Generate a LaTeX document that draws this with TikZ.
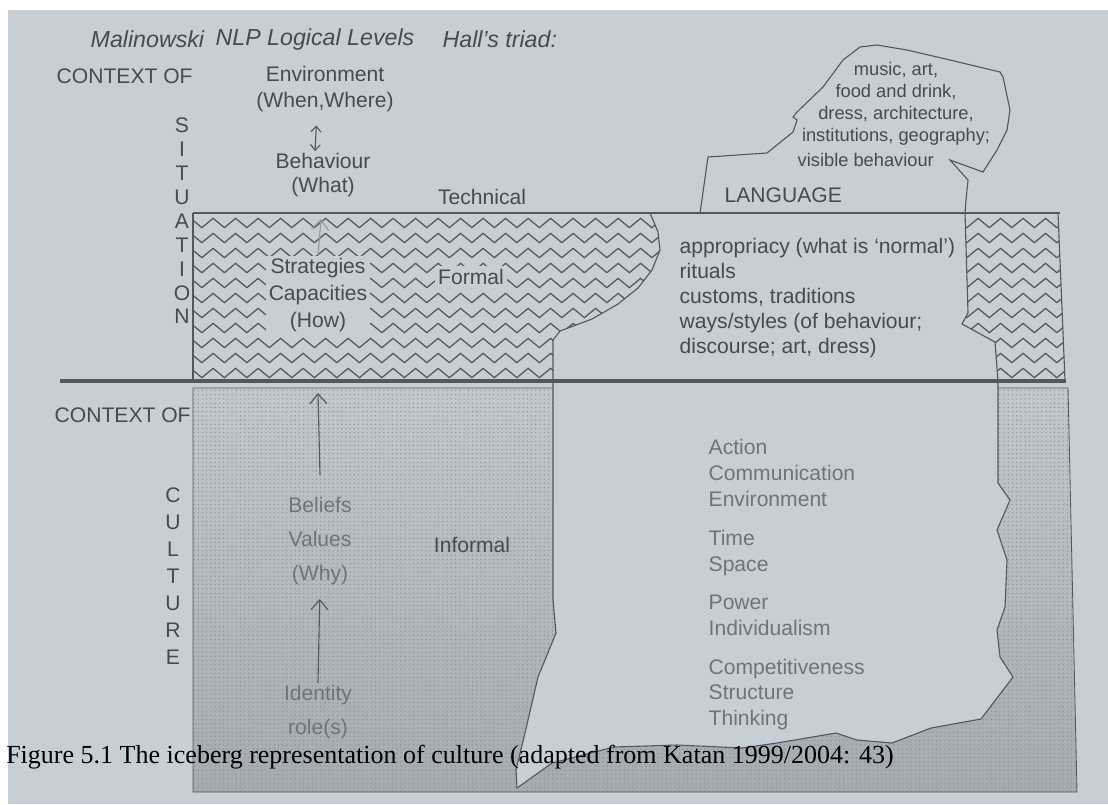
\documentclass[tikz,border=0pt]{standalone}
\usepackage{fontspec}
\setmainfont{Liberation Sans}
\newfontfamily\legendefont{Liberation Serif}
\usetikzlibrary{arrows.meta,decorations.pathmorphing,patterns}
\definecolor{fond}{RGB}{198,207,213}
\definecolor{encre}{RGB}{72,75,78}
\definecolor{pale}{RGB}{112,116,119}
\definecolor{trait}{RGB}{85,88,90}
\definecolor{grain}{RGB}{140,146,150}

\begin{document}
\begin{tikzpicture}[x=0.025cm, y=-0.025cm,
    txt/.style={text=encre, font=\fontsize{15}{18}\selectfont, inner sep=1pt},
    entete/.style={txt, font=\fontsize{16.5}{18}\selectfont\itshape},
    fleche/.style={-{Straight Barb[length=7pt,width=12pt]}, draw=trait, line width=0.8pt},
    fleche2/.style={{Straight Barb[length=4pt,width=7pt]}-{Straight Barb[length=4pt,width=7pt]}, draw=trait, line width=0.8pt},
    zz/.style={draw=trait, line width=0.9pt, decorate, decoration={zigzag, segment length=16pt, amplitude=3.3pt}},
    contour/.style={draw=trait, line width=0.8pt}]
  % le fond
  \fill[white] (0,0) rectangle (1108,804);
  \fill[fond] (8,10) rectangle (1108,804);
  \useasboundingbox (0,0) rectangle (1108,804);

  % la culture : zone grisee
  \shade[top color=fond!97!black, bottom color=fond!83!black] (193,388) -- (1068,388) -- (1077,792) -- (193,792) -- cycle;
  \fill[pattern=dots, pattern color=grain] (193,388) -- (1068,388) -- (1077,792) -- (193,792) -- cycle;

  % la partie claire sous l'eau
  \draw[contour, fill=fond] (553,381) -- (553,600) -- (556,633) -- (538,677) -- (525,733) -- (516,770) -- (517,788)
    -- (552,763) -- (614,747) -- (677,745) -- (742,748) -- (777,743) -- (836,733) -- (857,740) -- (892,743)
    -- (931,728) -- (981,719) -- (1013,677) -- (1000,657) -- (997,630) -- (1005,607) -- (1007,560) -- (997,530)
    -- (1010,500) -- (998,483) -- (998,381) -- cycle;

  % le cadre de la culture
  \draw[trait, line width=0.6pt] (553,388) -- (193,388) -- (193,792) -- (1077,792) -- (1068,388) -- (998,388);

  % la situation : les zigzags
  \begin{scope}
    \clip (193,213) -- (650,213) -- (658,232) -- (660,250) -- (652,270) -- (638,288) -- (618,304) -- (592,319)
      -- (560,331) -- (553,340) -- (553,381) -- (193,381) -- cycle
      (965,213) -- (1058,213) -- (1065,381) -- (998,381) -- (995,342) -- (962,324) -- (968,313) -- cycle;
    \foreach \r in {0,...,10}
      \draw[zz] (185,223+15*\r) -- (1075,223+15*\r);
  \end{scope}
  \draw[contour] (193,213) -- (193,381);
  \draw[contour] (650,213) -- (658,232) -- (660,250) -- (652,270) -- (638,288) -- (618,304) -- (592,319)
    -- (560,331) -- (553,340) -- (553,381);
  \draw[contour] (1058,213) -- (1065,381);
  \draw[trait, line width=2pt] (193,213) -- (1060,213);

  % la pointe de l'iceberg
  \draw[contour] (700,213) -- (708,157) -- (767,153) -- (793,132) -- (797,120) -- (793,117) -- (797,112)
    -- (823,87) -- (843,60) -- (860,47) -- (877,45) -- (907,50) -- (950,60) -- (1000,72) -- (1003,77)
    -- (1010,110) -- (1007,130) -- (997,150) -- (983,172) -- (950,160) -- (968,180) -- (966,200) -- (965,213)
    -- (968,313) -- (962,324) -- (995,342) -- (998,381);

  % la ligne de flottaison
  \draw[trait, line width=3pt] (60,381) -- (1066,381);

  % les titres
  \node[entete, anchor=west] (malinowski) at (89,39) {Malinowski};
  \node[entete, anchor=west] (nlp) at (214,39) {NLP Logical Levels};
  \node[entete, anchor=west] (triade) at (441,39) {Hall’s triad:};

  % Malinowski
  \node[txt, anchor=west] (ctxsit) at (55,76) {CONTEXT OF};
  \node[txt, align=center, font=\fontsize{15}{17}\selectfont] (situation) at (182,221) {S\\I\\T\\U\\A\\T\\I\\O\\N};
  \node[txt, anchor=west] (ctxcult) at (53,415) {CONTEXT OF};
  \node[txt, align=center, font=\fontsize{15}{19.2}\selectfont] (culture) at (173,576) {C\\U\\L\\T\\U\\R\\E};

  % les niveaux logiques
  \node[txt, align=center, font=\fontsize{15}{18.4}\selectfont] (env) at (325,89) {Environment\\(When,Where)};
  \node[txt, align=center, font=\fontsize{15}{17.7}\selectfont] (comp) at (323,175) {Behaviour\\(What)};
  \draw[fleche2, shorten <=0.3cm] ([xshift=-0.2cm]env.south) -- ([xshift=-0.2cm]comp.north);
  \node[txt, align=center, fill=fond, inner sep=2pt, font=\fontsize{15}{19}\selectfont] (strat) at (318,295) {Strategies\\Capacities\\(How)};
  \coordinate (sommet) at (321,219);
  \draw[fleche, draw=trait!45!fond] (strat.north) -- (sommet);
  \node[txt, text=pale, align=center, font=\fontsize{15}{24.5}\selectfont] (croyances) at (320,541) {Beliefs\\Values\\(Why)};
  \coordinate (surface) at (318,393);
  \draw[fleche] ([yshift=0.5cm]croyances.north) -- (surface);
  \node[txt, text=pale, align=center, font=\fontsize{15}{24.8}\selectfont] (identite) at (318,712) {Identity\\role(s)};
  \draw[fleche, shorten >=0.3cm] (identite.north) -- (croyances.south);

  % la triade de Hall
  \node[txt] (tech) at (482,197) {Technical};
  \node[txt, fill=fond, inner sep=2pt] (formel) at (471,277) {Formal};
  \node[txt] (informel) at (472,545) {Informal};
  \node[txt, anchor=west] (langue) at (723,195) {LANGUAGE};
  \node[txt, align=center, font=\fontsize{13}{15.6}\selectfont] (nuage) at (896,104) {music, art,\\food and drink,\\dress, architecture,\\institutions, geography;};
  \node[txt, anchor=west, font=\fontsize{13}{15.6}\selectfont] (visible) at (796,160) {visible behaviour};
  \node[txt, anchor=north west, align=left, font=\fontsize{15}{17.7}\selectfont] (coutumes) at (678,237) {appropriacy (what is ‘normal’)\\rituals\\customs, traditions\\ways/styles (of behaviour;\\discourse; art, dress)};
  \node[txt, text=pale, anchor=north west, align=left, font=\fontsize{15}{18.4}\selectfont] (themes) at (707,438) {Action\\Communication\\Environment\\[9pt]Time\\Space\\[9pt]Power\\Individualism\\[9pt]Competitiveness\\Structure\\Thinking};

  % la legende
  \node[anchor=west, inner sep=0pt, font=\legendefont\fontsize{18.5}{20}\selectfont] (legende) at (6,757) {Figure 5.1 The iceberg representation of culture (adapted from Katan 1999/2004: 43)};
\end{tikzpicture}
\end{document}
